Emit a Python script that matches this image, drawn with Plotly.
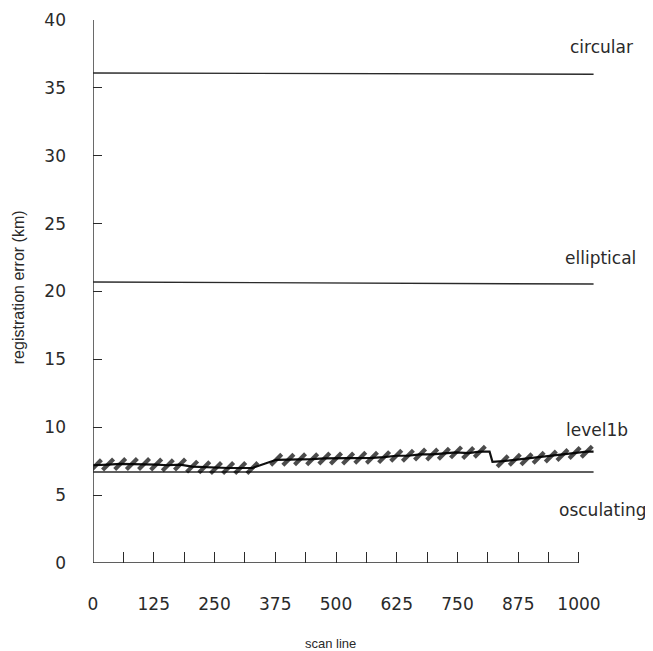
import plotly.graph_objects as go

# ---- data ----
x_ends = [0, 1030]
circular = [36.1, 36.0]
elliptical = [20.7, 20.55]
osculating = [6.7, 6.7]

level1b_x = [0, 6, 31, 56, 80, 105, 130, 154, 179, 204, 229, 253, 278, 303, 328,
             377, 402, 426, 451, 476, 500, 525, 550, 574, 599, 624, 648, 673, 698,
             722, 747, 772, 796, 816, 822,
             843, 868, 892, 917, 942, 966, 991, 1016, 1030]
level1b_y = [7.2, 7.2, 7.25, 7.3, 7.3, 7.3, 7.25, 7.2, 7.25, 7.1, 7.05, 7.0, 7.0, 7.0, 7.0,
             7.6, 7.6, 7.65, 7.65, 7.7, 7.7, 7.7, 7.75, 7.75, 7.8, 7.9, 7.9, 8.0, 8.0,
             8.05, 8.15, 8.1, 8.2, 8.2, 7.45,
             7.5, 7.6, 7.65, 7.75, 7.85, 7.95, 8.1, 8.2, 8.2]
# which level1b points carry a "bolt" glyph (the interpolated joins carry none)
level1b_bolt = [0] + [1] * 14 + [1] * 18 + [0, 0] + [1] * 8 + [0]

x_major = [0, 125, 250, 375, 500, 625, 750, 875, 1000]
y_major = [0, 5, 10, 15, 20, 25, 30, 35, 40]

INK = "#2a2a2a"
TICKFONT = dict(family="DejaVu Sans", size=17, color=INK)

fig = go.Figure()
for yy in (circular, elliptical, osculating):
    fig.add_trace(go.Scatter(x=x_ends, y=yy, mode="lines",
                             line=dict(color=INK, width=1.4), showlegend=False,
                             hoverinfo="skip"))

fig.add_trace(go.Scatter(
    x=level1b_x, y=level1b_y, mode="lines+markers",
    line=dict(color="#111111", width=2.2),
    marker=dict(symbol="line-ne", size=[11 * b for b in level1b_bolt],
                line=dict(color="#000000", width=4.2)),
    showlegend=False, hoverinfo="skip"))

# axis lines (x axis stops at 1000 while the data run on a little further)
fig.add_shape(type="line", xref="x", yref="y", x0=0, x1=1000, y0=0, y1=0,
              line=dict(color=INK, width=1.4))
fig.add_shape(type="line", xref="x", yref="y", x0=0, x1=0, y0=0, y1=40,
              line=dict(color=INK, width=1.4))

fig.update_xaxes(range=[0, 1035], showline=False, showgrid=False, zeroline=False,
                 automargin=False,
                 tickmode="array", tickvals=x_major, ticktext=[str(v) for v in x_major],
                 ticks="inside", ticklen=11, tickwidth=1.3, tickcolor=INK,
                 tickfont=TICKFONT, ticklabelstandoff=29,
                 minor=dict(dtick=62.5, tick0=0, ticks="inside", ticklen=11,
                            tickwidth=1.3, tickcolor=INK, showgrid=False))
fig.update_yaxes(range=[0, 40], showline=False, showgrid=False, zeroline=False,
                 automargin=False,
                 tickmode="array", tickvals=y_major, ticktext=[str(v) for v in y_major],
                 ticks="inside", ticklen=9, tickwidth=1.3, tickcolor=INK,
                 tickfont=TICKFONT, ticklabelstandoff=26)

LABELFONT = dict(family="DejaVu Sans", size=17, color=INK)
for text, xp, yp in [("circular", 1.01, 0.950), ("elliptical", 1.008, 0.562),
                     ("level1b", 1.002, 0.245), ("osculating", 1.012, 0.0976)]:
    fig.add_annotation(text=text, xref="paper", yref="paper", x=xp, y=yp,
                       xanchor="center", yanchor="middle", showarrow=False,
                       font=LABELFONT)

fig.add_annotation(text="scan line", xref="paper", yref="paper", x=0.473, y=-0.148,
                   xanchor="center", yanchor="middle", showarrow=False,
                   font=dict(family="Liberation Sans", size=13, color=INK))
fig.add_annotation(text="registration error (km)", xref="paper", yref="paper",
                   x=-0.149, y=0.508, textangle=-90, xanchor="center",
                   yanchor="middle", showarrow=False,
                   font=dict(family="Liberation Sans", size=16, color=INK))

# the page body adds an 8px offset, so the figure is 8px smaller and margins shifted
fig.update_layout(width=645, height=643, paper_bgcolor="white", plot_bgcolor="white",
                  margin=dict(l=85, r=57, t=12, b=88), showlegend=False)

fig.write_html("out.html")
